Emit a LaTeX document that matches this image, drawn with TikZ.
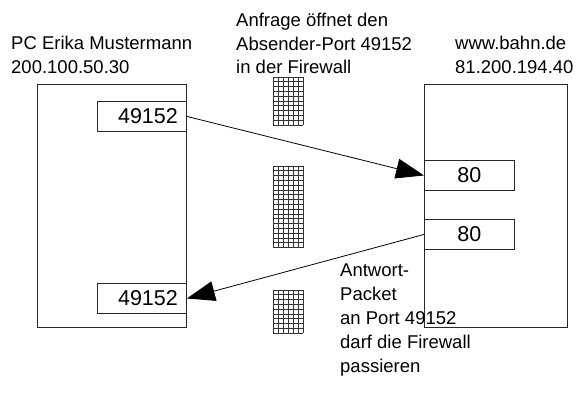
\documentclass[tikz,border=0pt]{standalone}
\usepackage{fontspec}
\setmainfont{Liberation Sans}
\usetikzlibrary{arrows.meta}
\begin{document}
\begin{tikzpicture}[x=1pt,y=-1pt,
  hostbox/.style={draw=black!85,line width=0.9pt,inner sep=0pt,anchor=north west},
  portbox/.style={draw=black!85,line width=0.9pt,inner sep=0pt,anchor=north west,
    font=\fontsize{21.5}{24}\selectfont},
  label/.style={inner sep=0pt,anchor=north west,align=left,
    font=\fontsize{18.5}{23.5}\selectfont},
  fw/.style={draw=black!80,line width=0.7pt},
  msg/.style={draw=black,line width=0.8pt,-{Triangle[length=28pt,width=20pt]}}]
\useasboundingbox (0,0) rectangle (578,401);
% hosts
\node[hostbox,minimum width=149pt,minimum height=243pt] (pc) at (37,84) {};
\node[hostbox,minimum width=143pt,minimum height=243pt] (srv) at (424,84) {};
% ports
\node[portbox,minimum width=89pt,minimum height=30pt] (p1) at (97,101) {\hspace*{12pt}49152};
\node[portbox,minimum width=89pt,minimum height=30pt] (p2) at (97,283) {\hspace*{12pt}49152};
\node[portbox,minimum width=90pt,minimum height=30pt] (s1) at (424,160) {80};
\node[portbox,minimum width=90pt,minimum height=30pt] (s2) at (424,219) {80};
% firewall grids
\foreach \name/\ya/\n in {fwa/77/10, fwb/166/17, fwc/290/9}{
  \pgfmathsetmacro{\yb}{\ya+4.8*\n}
  \coordinate (\name) at (273,\ya);
  \foreach \i in {0,...,6}{\draw[fw] (273+5*\i,\ya) -- (273+5*\i,\yb);}
  \foreach \j in {0,...,\n}{\draw[fw] (273,\ya+4.8*\j) -- (303,\ya+4.8*\j);}
}
% labels
\node[label] (lpc) at (11,36) {PC Erika Mustermann\\200.100.50.30};
\node[label] (lreq) at (236,13) {Anfrage öffnet den\\Absender-Port 49152\\in der Firewall};
\node[label] (lsrv) at (455,36) {www.bahn.de\\81.200.194.40};
\node[label,font=\fontsize{18.5}{24}\selectfont] (lans) at (340,264) {Antwort-\\Packet\\an Port 49152\\darf die Firewall\\passieren};
% messages
\draw[msg] (p1.east) -- (s1.west);
\draw[msg] (s2.west) -- (p2.east);
\end{tikzpicture}
\end{document}
